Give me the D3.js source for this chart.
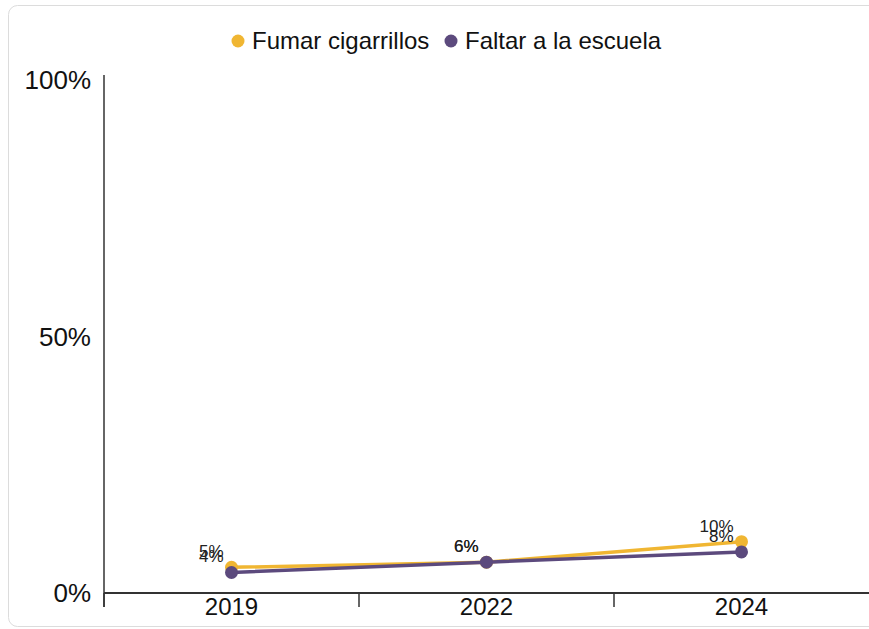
<!DOCTYPE html>
<html>
<head>
<meta charset="utf-8">
<script src="https://cdn.jsdelivr.net/npm/d3@7"></script>
<style>
  body { margin: 0; background: #fff; }
  svg { font-family: "Liberation Sans", Arial, sans-serif; }
</style>
</head>
<body>
<svg width="869" height="629"></svg>
<script>
var years = ["2019", "2022", "2024"];
var fumar = [5, 6, 10];
var faltar = [4, 6, 8];
var seriesNames = ["Fumar cigarrillos", "Faltar a la escuela"];
var seriesColors = ["#f0b632", "#5c4a7d"];
var yTicks = [0, 50, 100];

var svg = d3.select("svg");

// tarjeta
svg.append("rect")
  .attr("x", 8.5).attr("y", 5.5)
  .attr("width", 880).attr("height", 621)
  .attr("rx", 9)
  .attr("fill", "#fff")
  .attr("stroke", "#dcdcdc");

var x = d3.scaleBand().domain(years).range([104, 869]);
var y = d3.scaleLinear().domain([0, 100]).range([593, 80]);

// eje x
var gx = svg.append("g").attr("transform", "translate(0,593)");
gx.append("line").attr("x1", 104).attr("x2", 869).attr("stroke", "#333").attr("stroke-width", 2);
gx.selectAll(".tk")
  .data(years)
  .enter().append("line")
  .attr("x1", function(d) { return x(d); })
  .attr("x2", function(d) { return x(d); })
  .attr("y1", 0).attr("y2", 14)
  .attr("stroke", "#333").attr("stroke-width", 1.5);
gx.selectAll(".lbl")
  .data(years)
  .enter().append("text")
  .attr("x", function(d) { return x(d) + x.bandwidth() / 2; })
  .attr("y", 22)
  .attr("text-anchor", "middle")
  .style("font-size", "24px")
  .attr("fill", "#111")
  .text(function(d) { return d; });

// eje y
svg.append("line")
  .attr("x1", 104).attr("x2", 104)
  .attr("y1", 75).attr("y2", 607)
  .attr("stroke", "#333").attr("stroke-width", 1.5);
svg.selectAll(".ylbl")
  .data(yTicks)
  .enter().append("text")
  .attr("x", 91)
  .attr("y", function(d) { return y(d); })
  .attr("dy", "0.35em")
  .attr("text-anchor", "end")
  .style("font-size", "26px")
  .attr("fill", "#111")
  .text(function(d) { return d + "%"; });

var series = [fumar, faltar].map(function(vals, i) {
  return {
    name: seriesNames[i],
    color: seriesColors[i],
    values: vals.map(function(v, j) { return {year: years[j], value: v}; })
  };
});

var line = d3.line()
  .x(function(d) { return x(d.year) + x.bandwidth() / 2; })
  .y(function(d) { return y(d.value); });

var g = svg.selectAll(".serie")
  .data(series)
  .enter().append("g")
  .attr("class", "serie");

g.append("path")
  .attr("d", function(d) { return line(d.values); })
  .attr("fill", "none")
  .attr("stroke", function(d) { return d.color; })
  .attr("stroke-width", 3.5);

g.selectAll("circle")
  .data(function(d) { return d.values.map(function(v) { return {v: v, c: d.color}; }); })
  .enter().append("circle")
  .attr("cx", function(d) { return x(d.v.year) + x.bandwidth() / 2; })
  .attr("cy", function(d) { return y(d.v.value); })
  .attr("r", 6.5)
  .attr("fill", function(d) { return d.c; });

g.selectAll(".val")
  .data(function(d) { return d.values; })
  .enter().append("text")
  .attr("x", function(d) { return x(d.year) + x.bandwidth() / 2 - 8; })
  .attr("y", function(d) { return y(d.value) - 10; })
  .attr("text-anchor", "end")
  .style("font-size", "17px")
  .attr("fill", "#222")
  .text(function(d) { return d.value + "%"; });

// leyenda
var legend = svg.append("g");
var lx = [238, 451];
seriesNames.forEach(function(n, i) {
  legend.append("circle")
    .attr("cx", lx[i]).attr("cy", 41).attr("r", 6.5)
    .attr("fill", seriesColors[i]);
  legend.append("text")
    .attr("x", lx[i] + 14).attr("y", 41)
    .attr("dy", "0.35em")
    .style("font-size", "24px")
    .attr("fill", "#111")
    .text(n);
});
</script>
</body>
</html>
